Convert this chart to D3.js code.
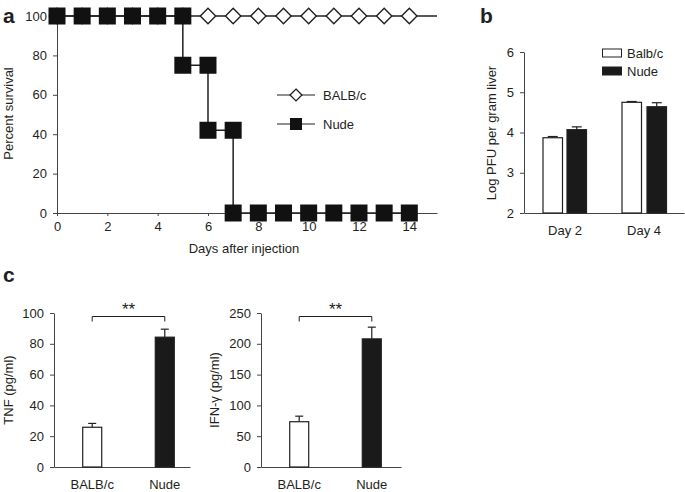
<!DOCTYPE html>
<html lang="en">
<head>
  <meta charset="UTF-8">
  <title>Survival, viral load and cytokines</title>
  <style>
    body, html { margin: 0; padding: 0; background: #fff; }
    svg { display: block; }
    text { font-family: "Liberation Sans", Arial, Helvetica, sans-serif; fill: #231f20; }
    .axis path, .axis line { stroke: #444; }
  </style>
</head>
<body>
  <svg id="svg" width="685" height="492"></svg>
  <script src="https://d3js.org/d3.v7.min.js"></script>
  <script>
    // panel a: survival
    const balbDays = [0, 1, 2, 3, 4, 5, 6, 7, 8, 9, 10, 11, 12, 13, 14]
    const balbSurvival = [100, 100, 100, 100, 100, 100, 100, 100, 100, 100, 100, 100, 100, 100, 100]
    const nudeDays = [0, 1, 2, 3, 4, 5, 5, 6, 6, 7, 7, 8, 9, 10, 11, 12, 13, 14]
    const nudeSurvival = [100, 100, 100, 100, 100, 100, 75, 75, 42, 42, 0, 0, 0, 0, 0, 0, 0, 0]
    const dayTicks = [0, 2, 4, 6, 8, 10, 12, 14]
    const survivalTicks = [0, 20, 40, 60, 80, 100]

    // panel b: liver PFU
    const pfuDays = ['Day 2', 'Day 4']
    const pfuGroups = ['Balb/c', 'Nude']
    const pfuBalb = [3.87, 4.75]
    const pfuBalbErr = [0.03, 0.02]
    const pfuNude = [4.07, 4.64]
    const pfuNudeErr = [0.07, 0.1]
    const pfuTicks = [2, 3, 4, 5, 6]

    // panel c: cytokines
    const strains = ['BALB/c', 'Nude']
    const tnfValues = [25.8, 84.3]
    const tnfErr = [2.5, 5.2]
    const tnfTicks = [0, 20, 40, 60, 80, 100]
    const ifnValues = [73.5, 208]
    const ifnErr = [9, 19]
    const ifnTicks = [0, 50, 100, 150, 200, 250]

    const svg = d3.select('#svg')
    const ink = '#231f20'
    const fs = 13

    function panelLabel(txt, x, y) {
      svg.append('text').text(txt)
        .attr('x', x).attr('y', y)
        .attr('font-size', 21).attr('font-weight', 'bold')
    }

    function styleAxis(g) {
      g.attr('class', 'axis')
      g.selectAll('text').attr('font-size', fs).attr('fill', ink).attr('font-family', null)
    }

    function yLabel(txt, x, y) {
      svg.append('text').text(txt)
        .attr('transform', `translate(${x},${y}) rotate(-90)`)
        .attr('text-anchor', 'middle')
        .attr('font-size', fs)
    }

    // ---------- panel a ----------
    const xA = d3.scaleLinear().domain([0, 15.1]).range([57, 437])
    const yA = d3.scaleLinear().domain([0, 100]).range([213, 16])

    panelLabel('a', 3, 23)

    svg.append('g')
      .attr('transform', `translate(0,${yA(0)})`)
      .call(d3.axisBottom(xA).tickValues(dayTicks).tickSize(3).tickPadding(6).tickSizeOuter(0))
      .call(styleAxis)
    svg.append('g')
      .attr('transform', `translate(${xA(0)},0)`)
      .call(d3.axisLeft(yA).tickValues(survivalTicks).tickSize(4).tickPadding(6).tickSizeOuter(0))
      .call(styleAxis)

    svg.append('text').text('Days after injection')
      .attr('x', 244).attr('y', 253).attr('text-anchor', 'middle').attr('font-size', fs)
    yLabel('Percent survival', 13, yA(50) - 1)

    // BALB/c line runs to the end of the axis
    svg.append('line')
      .attr('x1', xA(0)).attr('x2', xA(15.1))
      .attr('y1', yA(100)).attr('y2', yA(100))
      .attr('stroke', ink).attr('stroke-width', 1.5)

    const nudePts = nudeDays.map((d, i) => [d, nudeSurvival[i]])
    svg.append('path')
      .datum(nudePts)
      .attr('d', d3.line().x(d => xA(d[0])).y(d => yA(d[1])))
      .attr('fill', 'none').attr('stroke', ink).attr('stroke-width', 1.5)

    const diamond = d3.symbol().type(d3.symbolDiamond2).size(150)
    svg.append('g').selectAll('path')
      .data(balbDays.map((d, i) => [d, balbSurvival[i]]))
      .join('path')
      .attr('d', diamond)
      .attr('transform', d => `translate(${xA(d[0])},${yA(d[1])})`)
      .attr('fill', '#fff').attr('stroke', ink).attr('stroke-width', 1.4)

    svg.append('g').selectAll('rect')
      .data(nudePts)
      .join('rect')
      .attr('x', d => xA(d[0]) - 8.5).attr('y', d => yA(d[1]) - 8.5)
      .attr('width', 17).attr('height', 17)
      .attr('fill', '#111')

    // legend a
    const legA = [
      { name: 'BALB/c', y: 95 },
      { name: 'Nude', y: 124 }
    ]
    legA.forEach((l, i) => {
      svg.append('line').attr('x1', 277).attr('x2', 315).attr('y1', l.y).attr('y2', l.y)
        .attr('stroke', ink).attr('stroke-width', 1.2)
      if (i === 0) {
        svg.append('path').attr('d', d3.symbol().type(d3.symbolDiamond2).size(90))
          .attr('transform', `translate(296,${l.y})`)
          .attr('fill', '#fff').attr('stroke', ink).attr('stroke-width', 1.3)
      } else {
        svg.append('rect').attr('x', 290).attr('y', l.y - 6).attr('width', 12).attr('height', 12)
          .attr('fill', '#111')
      }
      svg.append('text').text(l.name).attr('x', 323).attr('y', l.y + 4.5).attr('font-size', fs)
    })

    // ---------- panel b ----------
    const yB = d3.scaleLinear().domain([2, 6]).range([213, 52])

    panelLabel('b', 480, 23)

    const bX = d3.scaleLinear().domain([0, 1]).range([524, 684])
    svg.append('g')
      .attr('transform', `translate(0,${yB(2)})`)
      .call(d3.axisBottom(bX).tickValues([]).tickSizeOuter(0))
      .call(styleAxis)
    svg.selectAll(null).data(pfuDays).join('text')
      .text(d => d)
      .attr('x', (d, i) => [565, 644][i]).attr('y', 235)
      .attr('text-anchor', 'middle').attr('font-size', fs)

    svg.append('g')
      .attr('transform', `translate(524,0)`)
      .call(d3.axisLeft(yB).tickValues(pfuTicks).tickFormat(d3.format('d')).tickSize(4).tickPadding(6).tickSizeOuter(0))
      .call(styleAxis)
    yLabel('Log PFU per gram liver', 496, 133)

    const pfuRows = []
    pfuDays.forEach((d, i) => {
      pfuRows.push({ day: d, group: 'Balb/c', v: pfuBalb[i], e: pfuBalbErr[i] })
      pfuRows.push({ day: d, group: 'Nude', v: pfuNude[i], e: pfuNudeErr[i] })
    })
    const bxPos = d => [543, 567, 622, 647][pfuRows.indexOf(d)]
    const bw = 19.5

    const bBars = svg.append('g').selectAll('g').data(pfuRows).join('g')
    bBars.append('line')
      .attr('x1', d => bxPos(d) + bw / 2).attr('x2', d => bxPos(d) + bw / 2)
      .attr('y1', d => yB(d.v)).attr('y2', d => yB(d.v + d.e))
      .attr('stroke', ink).attr('stroke-width', 1.2)
    bBars.append('line')
      .attr('x1', d => bxPos(d) + bw / 2 - 5).attr('x2', d => bxPos(d) + bw / 2 + 5)
      .attr('y1', d => yB(d.v + d.e)).attr('y2', d => yB(d.v + d.e))
      .attr('stroke', ink).attr('stroke-width', 1.2)
    bBars.append('rect')
      .attr('x', d => bxPos(d)).attr('width', bw)
      .attr('y', d => yB(d.v)).attr('height', d => yB(2) - yB(d.v))
      .attr('fill', d => d.group === 'Nude' ? '#1a1a1a' : '#fff')
      .attr('stroke', ink).attr('stroke-width', 1.2)

    // legend b
    pfuGroups.forEach((g, i) => {
      const y = 49 + i * 18
      svg.append('rect').attr('x', 602.5).attr('y', y).attr('width', 19).attr('height', 8)
        .attr('fill', i === 1 ? '#1a1a1a' : '#fff').attr('stroke', ink).attr('stroke-width', 1)
      svg.append('text').text(g).attr('x', 627).attr('y', y + 9).attr('font-size', fs)
    })

    // ---------- panel c ----------
    panelLabel('c', 3, 282)

    function cytoPanel(opt) {
      const y = d3.scaleLinear().domain([0, opt.max]).range([467, 313])
      const x = d3.scaleBand().domain(strains).range([opt.x0 + 11, opt.x0 + 138]).paddingInner(0.45).paddingOuter(0.1)
      const bwc = 19
      const cx = d => x(d) + x.bandwidth() / 2

      svg.append('g')
        .attr('transform', `translate(0,467)`)
        .call(d3.axisBottom(d3.scaleLinear().range([opt.x0, opt.x1])).tickValues([]).tickSizeOuter(0))
        .call(styleAxis)
      svg.append('g')
        .attr('transform', `translate(${opt.x0},0)`)
        .call(d3.axisLeft(y).tickValues(opt.ticks).tickSize(4).tickPadding(6).tickSizeOuter(0))
        .call(styleAxis)
      yLabel(opt.label, opt.labelX, 390)

      const rows = strains.map((s, i) => ({ s, v: opt.values[i], e: opt.err[i] }))
      const g = svg.append('g').selectAll('g').data(rows).join('g')
      g.append('line')
        .attr('x1', d => cx(d.s)).attr('x2', d => cx(d.s))
        .attr('y1', d => y(d.v)).attr('y2', d => y(d.v + d.e))
        .attr('stroke', ink).attr('stroke-width', 1.2)
      g.append('line')
        .attr('x1', d => cx(d.s) - 4).attr('x2', d => cx(d.s) + 4)
        .attr('y1', d => y(d.v + d.e)).attr('y2', d => y(d.v + d.e))
        .attr('stroke', ink).attr('stroke-width', 1.2)
      g.append('rect')
        .attr('x', d => cx(d.s) - bwc / 2).attr('width', bwc)
        .attr('y', d => y(d.v)).attr('height', d => 467 - y(d.v))
        .attr('fill', d => d.s === 'Nude' ? '#1a1a1a' : '#fff')
        .attr('stroke', ink).attr('stroke-width', 1.2)

      svg.selectAll(null).data(strains).join('text')
        .text(d => d)
        .attr('x', d => cx(d)).attr('y', 489)
        .attr('text-anchor', 'middle').attr('font-size', fs)

      // significance bracket
      const bx1 = cx(strains[0]), bx2 = cx(strains[1])
      svg.append('path')
        .attr('d', `M${bx1},321.5V316.5H${bx2}V321.5`)
        .attr('fill', 'none').attr('stroke', ink).attr('stroke-width', 1)
      svg.append('text').text('**')
        .attr('x', (bx1 + bx2) / 2).attr('y', 315)
        .attr('text-anchor', 'middle').attr('font-size', 17)
    }

    cytoPanel({ x0: 54, x1: 190, max: 100, ticks: tnfTicks, values: tnfValues, err: tnfErr, label: 'TNF (pg/ml)', labelX: 13 })
    cytoPanel({ x0: 261, x1: 401, max: 250, ticks: ifnTicks, values: ifnValues, err: ifnErr, label: 'IFN-γ (pg/ml)', labelX: 219 })
  </script>
</body>
</html>
